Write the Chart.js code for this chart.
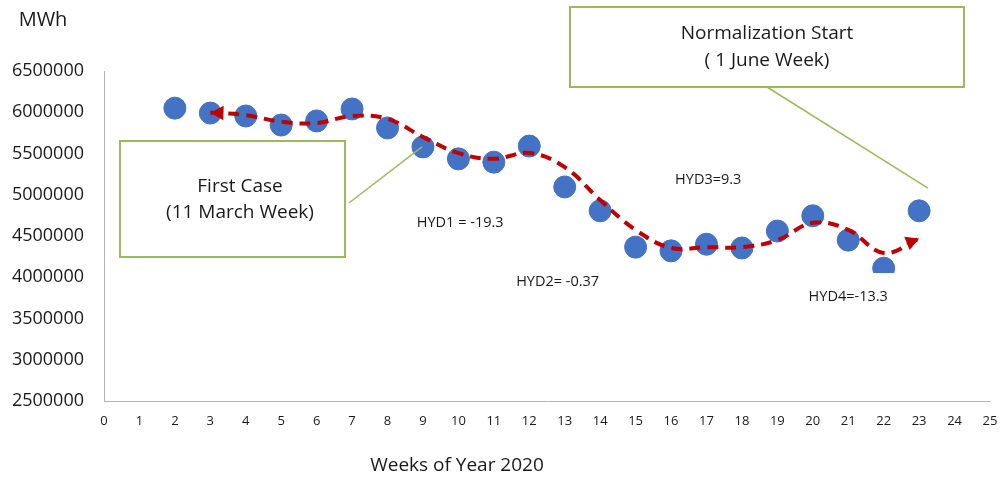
<!DOCTYPE html>
<html>
<head>
<meta charset="utf-8">
<script src="https://cdn.jsdelivr.net/npm/chart.js@4/dist/chart.umd.min.js"></script>
<style>
  html, body { margin: 0; padding: 0; background: #fff; }
  #wrap { width: 1003px; height: 480px; }
</style>
</head>
<body>
<div id="wrap"><canvas id="chart" width="1003" height="480"></canvas></div>
<script>
// weekly consumption (MWh)
const weeks = [2, 3, 4, 5, 6, 7, 8, 9, 10, 11, 12, 13, 14, 15, 16, 17, 18, 19, 20, 21, 22, 23];
const consumption = [6050000, 5990000, 5955000, 5845000, 5895000, 6040000, 5810000, 5580000, 5435000, 5395000, 5590000,
  5095000, 4805000, 4365000, 4320000, 4400000, 4355000, 4560000, 4745000, 4450000, 4110000, 4805000];

// dashed trend line
const trendWeeks = [3, 4, 5, 6, 7, 8, 9, 10, 11, 12, 13, 14, 15, 16, 17, 18, 19, 20, 21, 22, 23];
const trendValues = [5995000, 5965000, 5885000, 5870000, 5955000, 5920000, 5700000, 5505000, 5435000, 5505000, 5335000,
  4935000, 4575000, 4355000, 4365000, 4365000, 4450000, 4660000, 4575000, 4295000, 4470000];

const yTicks = [2500000, 3000000, 3500000, 4000000, 4500000, 5000000, 5500000, 6000000, 6500000];

// text notes: [week, value, text]
const notes = [
  [10.05, 4660000, 'HYD1 = -19.3'],
  [12.8, 3950000, 'HYD2= -0.37'],
  [17.05, 5185000, 'HYD3=9.3'],
  [21.0, 3760000, 'HYD4=-13.3']
];

const FONT = "'Open Sans', sans-serif";
const TXT = '#1a1a1a';
const GREEN = '#9bbb59';

function toPts(xs, ys) {
  return xs.map((x, i) => ({ x: x, y: ys[i] }));
}

function arrowHead(ctx, tip, from, size) {
  const ang = Math.atan2(tip.y - from.y, tip.x - from.x);
  ctx.beginPath();
  ctx.moveTo(tip.x, tip.y);
  ctx.lineTo(tip.x - size * Math.cos(ang - 0.5), tip.y - size * Math.sin(ang - 0.5));
  ctx.lineTo(tip.x - size * Math.cos(ang + 0.5), tip.y - size * Math.sin(ang + 0.5));
  ctx.closePath();
  ctx.fill();
}

const extras = {
  id: 'extras',
  afterDatasetsDraw(chart) {
    const ctx = chart.ctx;
    const xs = chart.scales.x, ys = chart.scales.y;

    // arrow heads at both ends of the trend
    const tp = chart.getDatasetMeta(0).data;
    ctx.save();
    ctx.fillStyle = '#c00000';
    arrowHead(ctx, tp[0], { x: tp[1].x, y: tp[0].y + 1 }, 15);
    arrowHead(ctx, tp[tp.length - 1], tp[tp.length - 2], 15);
    ctx.restore();

    // small notes, each in a white text box
    ctx.save();
    ctx.font = '14.5px ' + FONT;
    ctx.textAlign = 'center';
    ctx.textBaseline = 'middle';
    notes.forEach(n => {
      const px = xs.getPixelForValue(n[0]);
      const py = ys.getPixelForValue(n[1]);
      const w = ctx.measureText(n[2]).width;
      ctx.fillStyle = '#fff';
      ctx.fillRect(px - w / 2 - 6, py - 24, w + 12, 40);
      ctx.fillStyle = TXT;
      ctx.fillText(n[2], px, py);
    });
    ctx.restore();

    // callout boxes
    ctx.save();
    ctx.strokeStyle = GREEN;
    ctx.lineWidth = 1.5;
    // connector: first case -> week 9
    const p9 = { x: xs.getPixelForValue(9), y: ys.getPixelForValue(consumption[weeks.indexOf(9)]) };
    ctx.beginPath();
    ctx.moveTo(349, 203);
    ctx.lineTo(p9.x - 1, p9.y);
    ctx.stroke();
    // connector: normalization -> near week 23
    ctx.beginPath();
    ctx.moveTo(759, 82);
    ctx.lineTo(xs.getPixelForValue(23.25), ys.getPixelForValue(5080000));
    ctx.stroke();

    ctx.lineWidth = 2;
    ctx.fillStyle = '#fff';
    ctx.fillRect(120, 141, 225, 116);
    ctx.strokeRect(120, 141, 225, 116);
    ctx.fillRect(570, 7, 394, 80);
    ctx.strokeRect(570, 7, 394, 80);

    ctx.fillStyle = TXT;
    ctx.font = '19px ' + FONT;
    ctx.textAlign = 'center';
    ctx.textBaseline = 'middle';
    ctx.fillText('First Case', 240, 187);
    ctx.fillText('(11 March Week)', 240, 213);
    ctx.fillText('Normalization Start', 767, 34);
    ctx.fillText('( 1 June Week)', 767, 61);

    // unit label and axis caption
    ctx.font = '20px ' + FONT;
    ctx.fillText('MWh', 43, 20);
    ctx.font = '19px ' + FONT;
    ctx.fillText('Weeks of Year 2020', 457, 466);
    ctx.restore();
  }
};

new Chart(document.getElementById('chart'), {
  type: 'scatter',
  data: {
    datasets: [
      {
        type: 'line',
        data: toPts(trendWeeks, trendValues),
        borderColor: '#c00000',
        borderWidth: 4,
        borderDash: [11, 7],
        tension: 0.4,
        pointRadius: 0,
        fill: false,
        order: 0
      },
      {
        data: toPts(weeks, consumption),
        backgroundColor: '#4472c4',
        borderColor: '#4472c4',
        pointRadius: 11,
        pointHoverRadius: 11,
        showLine: false,
        order: 1
      }
    ]
  },
  plugins: [extras],
  options: {
    responsive: false,
    animation: false,
    layout: { padding: { top: 71, right: 13, left: 0, bottom: 0 } },
    plugins: {
      legend: { display: false },
      tooltip: { enabled: false }
    },
    scales: {
      x: {
        type: 'linear',
        min: 0,
        max: 25,
        // tick marks hidden, their length only pushes the labels down
        grid: { display: false, drawTicks: true, tickLength: 12 },
        border: { display: true, color: '#b4b4b4', width: 1 },
        ticks: { stepSize: 1, padding: 0, color: TXT, font: { family: FONT, size: 13 } },
        afterFit(scale) { scale.height = 79; }
      },
      y: {
        min: 2500000,
        max: 6500000,
        grid: { display: false, drawTicks: false },
        border: { display: true, color: '#b4b4b4', width: 1 },
        afterBuildTicks(scale) { scale.ticks = yTicks.map(v => ({ value: v })); },
        ticks: { padding: 20, color: TXT, font: { family: FONT, size: 18 }, callback: v => String(v) },
        afterFit(scale) { scale.width = 104; }
      }
    }
  }
});
</script>
</body>
</html>
